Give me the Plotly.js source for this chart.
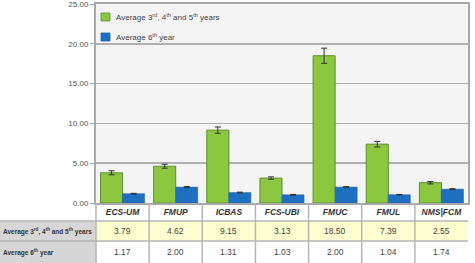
<!DOCTYPE html>
<html>
<head>
<meta charset="utf-8">
<script src="https://cdn.plot.ly/plotly-3.0.1.min.js"></script>
<style>
  html, body { margin: 0; padding: 0; background: #ffffff; }
  #chart { width: 475px; height: 263px; }
</style>
</head>
<body>
<div id="chart"></div>
<script>
// Schools compared
const schools = ['ECS-UM', 'FMUP', 'ICBAS', 'FCS-UBI', 'FMUC', 'FMUL', 'NMS|FCM'];

// Average of the 3rd, 4th and 5th years, with its error
const avg345 = [3.79, 4.62, 9.15, 3.13, 18.50, 7.39, 2.55];
const err345 = [0.25, 0.25, 0.40, 0.15, 0.95, 0.35, 0.15];

// Average of the 6th year, with its error
const avg6 = [1.17, 2.00, 1.31, 1.03, 2.00, 1.04, 1.74];
const err6 = [0.05, 0.06, 0.05, 0.05, 0.06, 0.04, 0.06];

const yTicks = [0, 5, 10, 15, 20, 25];

const label345 = 'Average 3<sup>rd</sup>, 4<sup>th</sup> and 5<sup>th</sup> years';
const label6 = 'Average 6<sup>th</sup> year';

const GREEN = '#8cc83f';
const BLUE = '#1f70c1';
const FONT = 'Liberation Sans, Arial, sans-serif';

const traces = [
  {
    type: 'bar', name: label345, x: schools, y: avg345,
    marker: { color: GREEN, line: { color: '#5c8d2c', width: 1 } },
    error_y: { type: 'data', array: err345, visible: true, color: '#333333', thickness: 1, width: 3 }
  },
  {
    type: 'bar', name: label6, x: schools, y: avg6,
    marker: { color: BLUE, line: { color: '#1d62a8', width: 0.5 } },
    error_y: { type: 'data', array: err6, visible: true, color: '#333333', thickness: 1, width: 3 }
  }
];

// Table geometry below the plot, in paper units (plot is 372 x 199 px)
const PH = 199, PW = 372;
const yRow1Top = -18 / PH;
const yRow2Top = -38 / PH;
const yBottom = -60 / PH;
const xHeadLeft = -96 / PW;

const shapes = [];
// header column background
shapes.push({ type: 'rect', xref: 'paper', yref: 'paper', x0: xHeadLeft, x1: 0, y0: yBottom, y1: yRow1Top,
  fillcolor: '#d6d6d6', line: { width: 0 }, layer: 'below' });
// first value row (yellow)
shapes.push({ type: 'rect', xref: 'paper', yref: 'paper', x0: 0, x1: 1, y0: yRow2Top, y1: yRow1Top,
  fillcolor: '#fdfdcf', line: { width: 0 }, layer: 'below' });
// horizontal rules
[yRow1Top, yRow2Top].forEach(function (yy) {
  shapes.push({ type: 'line', xref: 'paper', yref: 'paper', x0: xHeadLeft, x1: 1, y0: yy, y1: yy,
    line: { color: '#b5b5b5', width: 1.5 } });
});
// column separators between schools
for (let i = 0; i < schools.length - 1; i++) {
  shapes.push({ type: 'line', xref: 'x', yref: 'paper', x0: i + 0.5, x1: i + 0.5, y0: yBottom, y1: 0,
    line: { color: '#b5b5b5', width: 1.5 } });
}
shapes.push({ type: 'line', xref: 'paper', yref: 'paper', x0: 0, x1: 0, y0: yBottom, y1: 0,
  line: { color: '#b5b5b5', width: 1.5 } });

// legend drawn inside the plot, top-left
const legendItems = [
  { label: label345, color: GREEN, edge: '#5c8d2c', yTop: 13 },
  { label: label6, color: BLUE, edge: '#1d62a8', yTop: 33 }
];
const annotations = [];
legendItems.forEach(function (it) {
  const yt = 1 - (it.yTop - 4) / PH;
  const yb = 1 - (it.yTop + 8 - 4) / PH;
  shapes.push({ type: 'rect', xref: 'paper', yref: 'paper', x0: 5 / PW, x1: 14 / PW, y0: yb, y1: yt,
    fillcolor: it.color, line: { color: it.edge, width: 0.8 } });
  annotations.push({ xref: 'paper', yref: 'paper', x: 18 / PW, y: (yt + yb) / 2, xanchor: 'left', yanchor: 'middle',
    text: it.label, showarrow: false, font: { family: FONT, size: 8, color: '#444444' } });
});

const row1Mid = (yRow1Top + yRow2Top) / 2;
const row2Mid = (yRow2Top + yBottom) / 2;
annotations.push({ xref: 'paper', yref: 'paper', x: xHeadLeft + 1 / PW, y: row1Mid, xanchor: 'left', yanchor: 'middle',
  text: '<b>' + label345 + '</b>', showarrow: false, font: { family: FONT, size: 6.5, color: '#333333' } });
annotations.push({ xref: 'paper', yref: 'paper', x: xHeadLeft + 1 / PW, y: row2Mid, xanchor: 'left', yanchor: 'middle',
  text: '<b>' + label6 + '</b>', showarrow: false, font: { family: FONT, size: 6.5, color: '#333333' } });
schools.forEach(function (s, i) {
  annotations.push({ xref: 'x', yref: 'paper', x: i, y: row1Mid, yanchor: 'middle', showarrow: false,
    text: avg345[i].toFixed(2), font: { family: FONT, size: 8.5, color: '#444444' } });
  annotations.push({ xref: 'x', yref: 'paper', x: i, y: row2Mid, yanchor: 'middle', showarrow: false,
    text: avg6[i].toFixed(2), font: { family: FONT, size: 8.5, color: '#444444' } });
});

const layout = {
  width: 475, height: 263,
  margin: { l: 96, r: 7, t: 4, b: 60 },
  paper_bgcolor: '#ffffff',
  plot_bgcolor: '#f4f4f4',
  barmode: 'group',
  bargap: 0.17,
  bargroupgap: 0,
  showlegend: false,
  xaxis: {
    range: [-0.5, 6.5], tickmode: 'array', tickvals: schools.map(function (s, i) { return i; }),
    ticktext: schools.map(function (s) { return '<b><i>' + s + '</i></b>'; }),
    tickfont: { family: FONT, size: 8.5, color: '#333333' },
    showline: true, mirror: true, linecolor: '#a8a8a8', linewidth: 2,
    showgrid: false, zeroline: false, ticks: '', fixedrange: true
  },
  yaxis: {
    range: [0, 25], tickmode: 'array', tickvals: yTicks,
    ticktext: yTicks.map(function (v) { return v.toFixed(2); }),
    tickfont: { family: FONT, size: 8, color: '#555555' },
    ticklabeloverflow: 'allow',
    ticks: 'outside', ticklen: 4, tickcolor: '#a8a8a8', tickwidth: 1,
    showline: true, mirror: true, linecolor: '#a8a8a8', linewidth: 2,
    showgrid: true, gridcolor: '#b0b0b0', gridwidth: 1.5, zeroline: false, fixedrange: true
  },
  shapes: shapes,
  annotations: annotations
};

Plotly.newPlot('chart', traces, layout, { displayModeBar: false, staticPlot: true });
</script>
</body>
</html>
